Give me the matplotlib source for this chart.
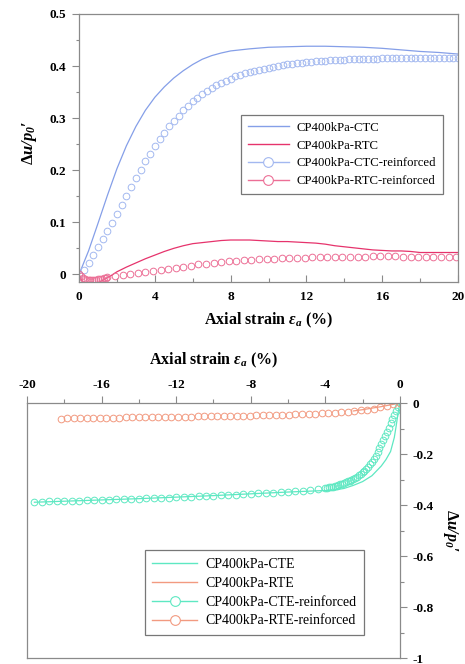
import numpy as np
from matplotlib import pyplot as plt
from matplotlib import ticker
from matplotlib.lines import Line2D

plt.rcParams["font.family"] = ["Liberation Serif", "DejaVu Serif"]
plt.rcParams["mathtext.fontset"] = "custom"
plt.rcParams["mathtext.rm"] = "Liberation Serif"
plt.rcParams["mathtext.it"] = "Liberation Serif:italic"
plt.rcParams["mathtext.bf"] = "Liberation Serif:bold"
plt.rcParams["mathtext.bfit"] = "Liberation Serif:italic:bold"

# ---- compression tests (CP = 400 kPa) ----
ctc_strain = [0, 0.5, 1, 1.5, 2, 2.5, 3, 3.5, 4, 4.5, 5, 5.5, 6, 6.5, 7, 7.5, 8,
              9, 10, 11, 12, 13, 14, 15, 16, 17, 18, 19, 20]
ctc_du = [0, 0.045, 0.098, 0.152, 0.203, 0.247, 0.284, 0.315, 0.340, 0.360, 0.377,
          0.391, 0.403, 0.413, 0.420, 0.425, 0.429, 0.433, 0.436, 0.437, 0.438,
          0.438, 0.437, 0.436, 0.434, 0.431, 0.428, 0.426, 0.423]

rtc_strain = [0, 0.15, 0.3, 0.5, 0.75, 1.0, 1.25, 1.5, 1.75, 2.0, 2.5, 3.0, 3.5,
              4.0, 4.5, 5.0, 5.5, 6.0, 6.5, 7.0, 7.5, 8.0, 8.5, 9.0, 9.5, 10, 10.5,
              11, 11.5, 12, 12.5, 13, 13.5, 14, 14.5, 15, 15.5, 16, 16.5, 17, 17.5,
              18, 19, 20]
rtc_du = [0, -0.012, -0.020, -0.023, -0.021, -0.016, -0.011, -0.006, -0.001, 0.005,
          0.014, 0.022, 0.030, 0.037, 0.044, 0.050, 0.055, 0.059, 0.061, 0.063,
          0.065, 0.066, 0.066, 0.066, 0.065, 0.064, 0.063, 0.063, 0.062, 0.061,
          0.060, 0.058, 0.055, 0.053, 0.051, 0.049, 0.047, 0.046, 0.045, 0.045,
          0.044, 0.042, 0.042, 0.042]

# reinforced samples, logged every 0.25 % strain
ctc_r_strain = np.linspace(0, 20, 81)
ctc_r_du = [0.000, 0.008, 0.022, 0.037, 0.052, 0.067, 0.083, 0.099, 0.116,
            0.134, 0.151, 0.168, 0.185, 0.201, 0.217, 0.232, 0.246,
            0.259, 0.272, 0.284, 0.295, 0.305, 0.315, 0.324, 0.332,
            0.339, 0.346, 0.352, 0.358, 0.363, 0.368, 0.372, 0.376,
            0.380, 0.383, 0.386, 0.389, 0.391, 0.393, 0.395, 0.397,
            0.399, 0.400, 0.402, 0.403, 0.404, 0.405, 0.406, 0.407,
            0.408, 0.409, 0.410, 0.410, 0.411, 0.411, 0.412, 0.412,
            0.413, 0.413, 0.413, 0.414, 0.414, 0.414, 0.414, 0.415,
            0.415, 0.415, 0.415, 0.415, 0.415, 0.416, 0.416, 0.416,
            0.416, 0.416, 0.416, 0.416, 0.416, 0.416, 0.416, 0.416]

rtc_r_strain = np.concatenate([np.linspace(0, 1.5, 16), np.linspace(1.9, 19.9, 46)])
rtc_r_du = [0, -0.004, -0.007, -0.009, -0.010, -0.011, -0.011, -0.011, -0.010,
            -0.010, -0.009, -0.008, -0.008, -0.007, -0.006, -0.005,
            -0.004, -0.002, 0.000, 0.002, 0.005, 0.007, 0.009, 0.011, 0.013,
            0.015, 0.017, 0.019, 0.020, 0.022, 0.023, 0.025, 0.026, 0.027,
            0.028, 0.029, 0.030, 0.030, 0.031, 0.031, 0.032, 0.032, 0.033,
            0.033, 0.033, 0.034, 0.034, 0.034, 0.034, 0.034, 0.035, 0.035,
            0.035, 0.035, 0.034, 0.034, 0.034, 0.034, 0.033, 0.033, 0.033,
            0.033]

# ---- extension tests (CP = 400 kPa) ----
cte_strain = [0, -0.1, -0.2, -0.3, -0.5, -0.75, -1.0, -1.5, -2.0, -2.5, -3.0, -3.5,
              -4.0, -5, -6, -8, -10, -12, -14, -16, -18, -19.6]
cte_du = [0, -0.040, -0.090, -0.135, -0.190, -0.222, -0.247, -0.285, -0.308, -0.323,
          -0.335, -0.341, -0.343, -0.346, -0.349, -0.356, -0.363, -0.369, -0.375,
          -0.380, -0.385, -0.389]

rte_strain = [0, -0.5, -1.0, -1.5, -2.0, -2.5]
rte_du = [0, -0.007, -0.014, -0.020, -0.026, -0.031]

cte_r_strain = -np.concatenate([np.linspace(0, 4, 41), np.linspace(4.4, 19.6, 39)])
cte_r_du = [0.000, -0.015, -0.031, -0.047, -0.063, -0.080, -0.096, -0.112, -0.128, -0.144,
            -0.160, -0.176, -0.192, -0.206, -0.219, -0.231, -0.240, -0.249, -0.257, -0.265,
            -0.272, -0.279, -0.284, -0.289, -0.293, -0.297, -0.300, -0.304, -0.307, -0.310,
            -0.313, -0.316, -0.319, -0.321, -0.324, -0.326, -0.328, -0.330, -0.331, -0.332,
            -0.334,
            -0.337, -0.340, -0.343, -0.345, -0.347, -0.349, -0.351, -0.352, -0.354, -0.356,
            -0.357, -0.359, -0.360, -0.362, -0.364, -0.365, -0.366, -0.367, -0.369, -0.370,
            -0.371, -0.372, -0.373, -0.374, -0.375, -0.376, -0.377, -0.378, -0.379, -0.381,
            -0.381, -0.382, -0.383, -0.383, -0.384, -0.385, -0.386, -0.387, -0.388]

rte_r_strain = -np.linspace(0, 18.2, 53)
rte_r_du = [0, -0.005, -0.011, -0.017, -0.022, -0.026, -0.029, -0.032, -0.034, -0.036,
            -0.038, -0.039, -0.040, -0.041, -0.042, -0.043, -0.044, -0.045, -0.046, -0.046,
            -0.047, -0.047, -0.048, -0.049, -0.049, -0.050, -0.050, -0.051, -0.051, -0.052,
            -0.052, -0.052, -0.053, -0.053, -0.053, -0.054, -0.054, -0.055, -0.055, -0.055,
            -0.056, -0.056, -0.056, -0.057, -0.057, -0.057, -0.058, -0.058, -0.059, -0.059,
            -0.060, -0.060, -0.061]

C_CTC, C_CTC_R = "#859fe8", "#a3b8f0"
C_RTC, C_RTC_R = "#e6336c", "#ec6f96"
C_CTE = "#5ee8c2"
C_RTE = "#f29a80"
SPINE = "#8a8a8a"

XLABEL = r"Axial strain $\mathbfit{\varepsilon_a}$ (%)"
YLABEL = r"$\mathbf{\Delta}\mathbfit{u/p_0}\mathbf{\prime}$"


def plain(v, pos):
    if abs(v) < 1e-9:
        return "0"
    return f"{v:g}"


def style_axes(ax):
    for sp in ax.spines.values():
        sp.set_color(SPINE)
        sp.set_linewidth(0.9)
    ax.tick_params(which="both", colors=SPINE, labelcolor="black", width=0.8)
    ax.tick_params(which="major", labelsize=9.5)
    for lab in ax.get_xticklabels() + ax.get_yticklabels():
        lab.set_fontweight("bold")
    ax.xaxis.set_major_formatter(ticker.FuncFormatter(plain))
    ax.yaxis.set_major_formatter(ticker.FuncFormatter(plain))


def make_handles(specs):
    handles = []
    for color, marker in specs:
        if marker:
            h = Line2D([], [], color=color, lw=1.0, marker="o", ms=7,
                       mfc="white", mec=color, mew=0.8)
        else:
            h = Line2D([], [], color=color, lw=1.0)
        handles.append(h)
    return handles


fig = plt.figure(figsize=(4.65, 6.64), dpi=100)

# ---------------- compression ----------------
ax1 = fig.add_axes([0.170, 0.575, 0.815, 0.404])
ax1.plot(ctc_strain, ctc_du, color=C_CTC, lw=0.9)
ax1.plot(rtc_strain, rtc_du, color=C_RTC, lw=0.9)
ax1.plot(ctc_r_strain, ctc_r_du, ls="none", marker="o", ms=4.8, mfc="none",
         mec=C_CTC_R, mew=0.7)
ax1.plot(rtc_r_strain, rtc_r_du, ls="none", marker="o", ms=4.8, mfc="none",
         mec=C_RTC_R, mew=0.7)
ax1.set_xlim(0, 20)
ax1.set_ylim(-0.015, 0.5)
ax1.xaxis.set_major_locator(ticker.MultipleLocator(4))
ax1.xaxis.set_minor_locator(ticker.MultipleLocator(2))
ax1.yaxis.set_major_locator(ticker.MultipleLocator(0.1))
ax1.yaxis.set_minor_locator(ticker.MultipleLocator(0.05))
ax1.tick_params(axis="x", which="both", direction="in", pad=6)
ax1.tick_params(axis="x", which="major", length=5)
ax1.tick_params(axis="x", which="minor", length=3)
ax1.tick_params(axis="y", which="major", direction="out", length=5, pad=4)
ax1.tick_params(axis="y", which="minor", direction="out", length=2.5)
style_axes(ax1)
ax1.set_xlabel(XLABEL, fontsize=11.5, fontweight="bold")
ax1.xaxis.set_label_coords(0.5, -0.105)
ax1.set_ylabel(YLABEL, fontsize=12)
ax1.yaxis.set_label_coords(-0.105, 0.52)

leg1 = ax1.legend(make_handles([(C_CTC, False), (C_RTC, False),
                                (C_CTC_R, True), (C_RTC_R, True)]),
                  ["CP400kPa-CTC", "CP400kPa-RTC",
                   "CP400kPa-CTC-reinforced", "CP400kPa-RTC-reinforced"],
                  loc="upper right", bbox_to_anchor=(0.977, 0.648),
                  fontsize=9.2, handlelength=3.2, labelspacing=0.45,
                  borderpad=0.55, handletextpad=0.6, fancybox=False,
                  framealpha=1, edgecolor="#777777")
leg1.get_frame().set_linewidth(0.9)

# ---------------- extension ----------------
ax2 = fig.add_axes([0.058, 0.009, 0.802, 0.384])
ax2.plot(cte_strain, cte_du, color=C_CTE, lw=0.9)
ax2.plot(rte_strain, rte_du, color=C_RTE, lw=0.9)
ax2.plot(cte_r_strain, cte_r_du, ls="none", marker="o", ms=4.8, mfc="none",
         mec=C_CTE, mew=0.7)
ax2.plot(rte_r_strain, rte_r_du, ls="none", marker="o", ms=4.8, mfc="none",
         mec=C_RTE, mew=0.7)
ax2.set_xlim(-20, 0)
ax2.set_ylim(-1, 0)
ax2.xaxis.tick_top()
ax2.xaxis.set_label_position("top")
ax2.yaxis.tick_right()
ax2.yaxis.set_label_position("right")
ax2.xaxis.set_major_locator(ticker.MultipleLocator(4))
ax2.xaxis.set_minor_locator(ticker.MultipleLocator(2))
ax2.yaxis.set_major_locator(ticker.MultipleLocator(0.2))
ax2.yaxis.set_minor_locator(ticker.MultipleLocator(0.1))
ax2.tick_params(which="both", direction="out", pad=4)
ax2.tick_params(which="major", length=5)
ax2.tick_params(which="minor", length=3)
style_axes(ax2)
ax2.set_xlabel(XLABEL, fontsize=11.5, fontweight="bold")
ax2.xaxis.set_label_coords(0.5, 1.15)
ax2.set_ylabel(YLABEL, fontsize=11.5, rotation=270, va="center", ha="center")
ax2.yaxis.set_label_coords(1.135, 0.5)

leg2 = ax2.legend(make_handles([(C_CTE, False), (C_RTE, False),
                                (C_CTE, True), (C_RTE, True)]),
                  ["CP400kPa-CTE", "CP400kPa-RTE",
                   "CP400kPa-CTE-reinforced", "CP400kPa-RTE-reinforced"],
                  loc="lower right", bbox_to_anchor=(0.922, 0.063),
                  fontsize=10, handlelength=3.2, labelspacing=0.42,
                  borderpad=0.55, handletextpad=0.6, fancybox=False,
                  framealpha=1, edgecolor="#777777")
leg2.get_frame().set_linewidth(0.9)

fig.savefig("out.png", dpi=100)
